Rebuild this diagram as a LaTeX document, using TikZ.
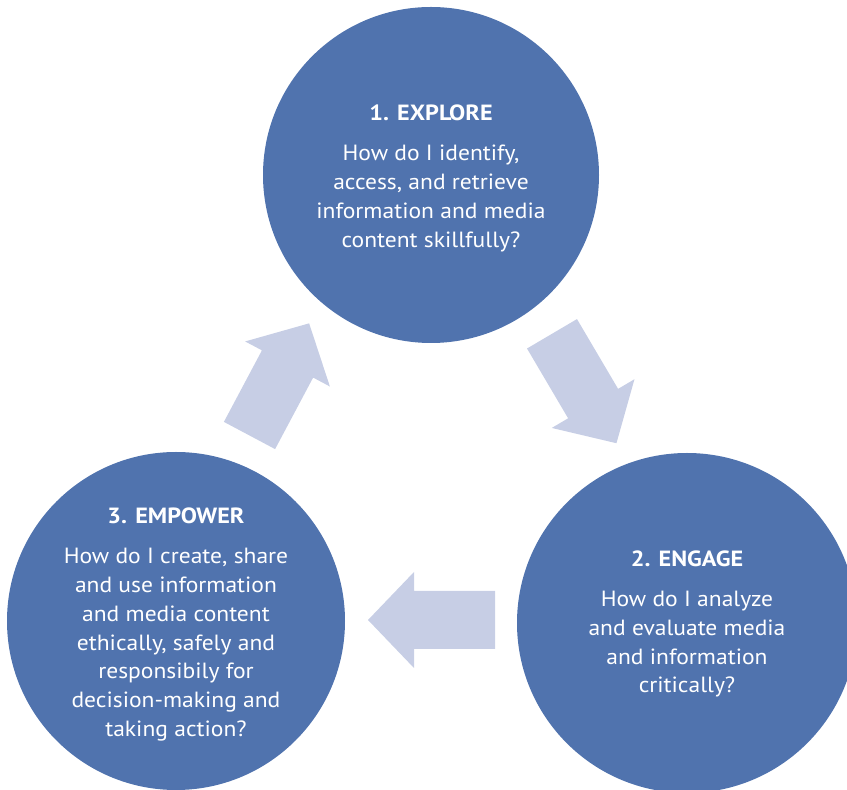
\documentclass[tikz,border=0pt]{standalone}
\usepackage{fontspec}
\setmainfont{PT Sans}[FakeStretch=1.07, BoldFeatures={FakeStretch=1.1}]
\definecolor{circblue}{RGB}{80,115,174}
\definecolor{arrowfill}{RGB}{199,206,229}
\begin{document}
\begin{tikzpicture}[x=1pt,y=1pt,
  stage/.style={circle, fill=circblue, inner sep=0pt},
  stagetext/.style={text=white, anchor=base, inner sep=0pt, font=\fontsize{22}{28.7}\selectfont},
  blockarrow/.pic={\fill[arrowfill] (0,-29) -- (81,-29) -- (81,-48) -- (127,0) -- (81,48) -- (81,29) -- (0,29) -- cycle;}]
\useasboundingbox (0,0) rectangle (847,790);
% block arrows
\pic[rotate=62] at (249.5,354.5) {blockarrow};
\pic[rotate=-59.5] at (552,456.2) {blockarrow};
\pic[rotate=180] at (495,170) {blockarrow};
% circles
\node[stage, minimum size=336pt] (explore) at (431,615) {};
\node[stage, minimum size=340pt] (engage) at (687,167) {};
\node[stage, minimum size=338pt] (empower) at (176,169) {};
% texts
\node[stagetext] (exploretext) at (431,669) {\begin{tabular}[t]{@{}c@{}}\textbf{1. EXPLORE}\\[11.3pt] How do I identify,\\ access, and retrieve\\ information and media\\ content skillfully?\end{tabular}};
\node[stagetext] (engagetext) at (687,223.3) {\begin{tabular}[t]{@{}c@{}}\textbf{2. ENGAGE}\\[11.3pt] How do I analyze\\ and evaluate media\\ and information\\ critically?\end{tabular}};
\node[stagetext] (empowertext) at (176,266) {\begin{tabular}[t]{@{}c@{}}\textbf{3. EMPOWER}\\[11.3pt] How do I create, share\\ and use information\\ and media content\\ ethically, safely and\\ responsibily for\\ decision-making and\\ taking action?\end{tabular}};
\end{tikzpicture}
\end{document}
